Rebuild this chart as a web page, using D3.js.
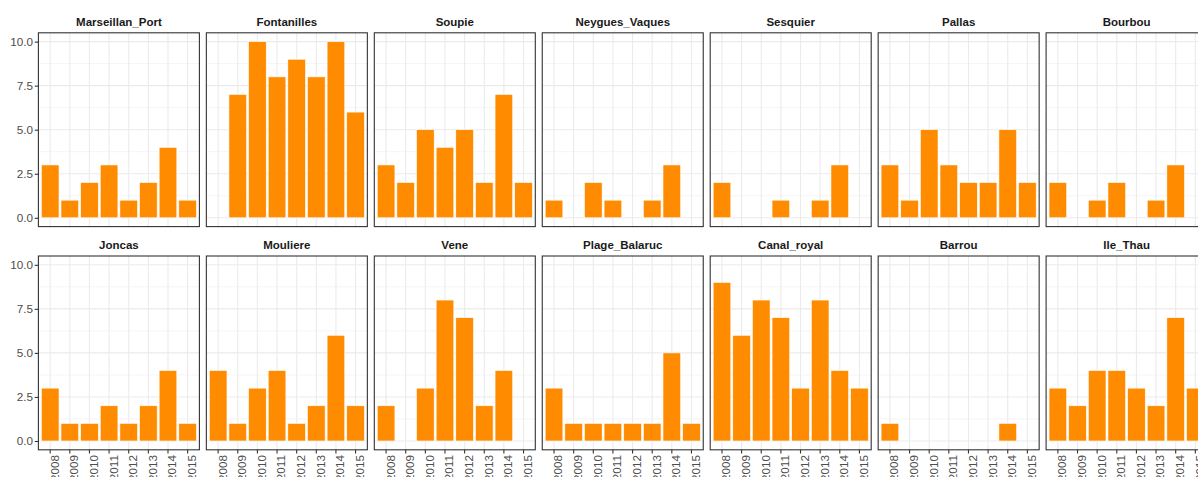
<!DOCTYPE html>
<html>
<head>
<meta charset="utf-8">
<script src="https://cdn.jsdelivr.net/npm/d3@7"></script>
<style>
  html, body { margin: 0; padding: 0; background: #fff; overflow: hidden; }
  svg { display: block; font-family: "Liberation Sans", Arial, sans-serif; }
</style>
</head>
<body>
<svg id="chart" width="1198" height="477"></svg>
<script>
// ---- data ----
const years = ["2008", "2009", "2010", "2011", "2012", "2013", "2014", "2015"];
const sites = ["Marseillan_Port", "Fontanilles", "Soupie", "Neygues_Vaques", "Sesquier", "Pallas", "Bourbou",
               "Joncas", "Mouliere", "Vene", "Plage_Balaruc", "Canal_royal", "Barrou", "Ile_Thau"];
const yTicks = [0, 2.5, 5, 7.5, 10];
const yMinor = [1.25, 3.75, 6.25, 8.75];

const marseillanPort = [3, 1, 2, 3, 1, 2, 4, 1];
const fontanilles    = [0, 7, 10, 8, 9, 8, 10, 6];
const soupie         = [3, 2, 5, 4, 5, 2, 7, 2];
const neyguesVaques  = [1, 0, 2, 1, 0, 1, 3, 0];
const sesquier       = [2, 0, 0, 1, 0, 1, 3, 0];
const pallas         = [3, 1, 5, 3, 2, 2, 5, 2];
const bourbou        = [2, 0, 1, 2, 0, 1, 3, 0];
const joncas         = [3, 1, 1, 2, 1, 2, 4, 1];
const mouliere       = [4, 1, 3, 4, 1, 2, 6, 2];
const vene           = [2, 0, 3, 8, 7, 2, 4, 0];
const plageBalaruc   = [3, 1, 1, 1, 1, 1, 5, 1];
const canalRoyal     = [9, 6, 8, 7, 3, 8, 4, 3];
const barrou         = [1, 0, 0, 0, 0, 0, 1, 0];
const ileThau        = [3, 2, 4, 4, 3, 2, 7, 3];

const siteValues = [marseillanPort, fontanilles, soupie, neyguesVaques, sesquier, pallas, bourbou,
                    joncas, mouliere, vene, plageBalaruc, canalRoyal, barrou, ileThau];

// ---- layout ----
const ncol = 7;
const panelW = 161;
const colStep = 167.95;
const left0 = 38.4;
const rowTops = [32.8, 256.0];
const panelH = 193.8;

const svg = d3.select("#chart");

const x = d3.scaleBand().domain(years).range([0, panelW]).paddingInner(0.1).paddingOuter(0.15);
const y = d3.scaleLinear().domain([-0.5, 10.5]).range([panelH, 0]);

sites.forEach((site, i) => {
  const col = i % ncol, row = Math.floor(i / ncol);
  const px = left0 + col * colStep, py = rowTops[row];
  const g = svg.append("g").attr("transform", `translate(${px},${py})`);

  // strip title
  g.append("text")
    .attr("x", panelW / 2).attr("y", -7.2)
    .attr("text-anchor", "middle")
    .attr("font-size", "11.5px").attr("font-weight", "bold")
    .attr("fill", "#1A1A1A")
    .text(site);

  // minor y grid
  g.selectAll(".ymin").data(yMinor).enter().append("line")
    .attr("x1", 0).attr("x2", panelW)
    .attr("y1", d => y(d)).attr("y2", d => y(d))
    .attr("stroke", "#EBEBEB").attr("stroke-width", 0.55);
  // major y grid
  g.selectAll(".ymaj").data(yTicks).enter().append("line")
    .attr("x1", 0).attr("x2", panelW)
    .attr("y1", d => y(d)).attr("y2", d => y(d))
    .attr("stroke", "#EBEBEB").attr("stroke-width", 1.1);
  // major x grid
  g.selectAll(".xmaj").data(years).enter().append("line")
    .attr("y1", 0).attr("y2", panelH)
    .attr("x1", d => x(d) + x.bandwidth() / 2).attr("x2", d => x(d) + x.bandwidth() / 2)
    .attr("stroke", "#EBEBEB").attr("stroke-width", 1.1);

  // bars
  const vals = siteValues[i];
  const data = years.map((yr, k) => ({ yr, v: vals[k] })).filter(d => d.v > 0);
  g.selectAll(".bar").data(data).enter().append("rect")
    .attr("x", d => x(d.yr))
    .attr("width", x.bandwidth())
    .attr("y", d => y(d.v))
    .attr("height", d => y(0) - y(d.v))
    .attr("fill", "#FF8C00")
    .attr("stroke", "#FFFFFF").attr("stroke-width", 0.6);

  // panel border
  g.append("rect")
    .attr("x", 0).attr("y", 0).attr("width", panelW).attr("height", panelH)
    .attr("fill", "none").attr("stroke", "#333333").attr("stroke-width", 1.1);

  // y axis on first column
  if (col === 0) {
    const ya = g.append("g")
      .call(d3.axisLeft(y).tickValues(yTicks).tickFormat(d3.format(".1f")).tickSize(3.7).tickPadding(1.8));
    ya.select(".domain").remove();
    ya.selectAll(".tick line").attr("stroke", "#333333").attr("stroke-width", 1.1);
    ya.selectAll(".tick text").attr("fill", "#4D4D4D").attr("font-size", "11.7px")
      .attr("font-family", "Liberation Sans, Arial, sans-serif");
  }
  // x axis on bottom row
  if (row === 1) {
    const xa = g.append("g").attr("transform", `translate(0,${panelH})`)
      .call(d3.axisBottom(x).tickSize(3.7));
    xa.select(".domain").remove();
    xa.selectAll(".tick line").attr("stroke", "#333333").attr("stroke-width", 1.1);
    xa.selectAll(".tick text")
      .attr("fill", "#4D4D4D").attr("font-size", "11.7px")
      .attr("font-family", "Liberation Sans, Arial, sans-serif")
      .attr("transform", "rotate(-90)")
      .attr("text-anchor", "end")
      .attr("x", -5.3).attr("y", 0).attr("dy", "0.72em");
  }
});
</script>
</body>
</html>
